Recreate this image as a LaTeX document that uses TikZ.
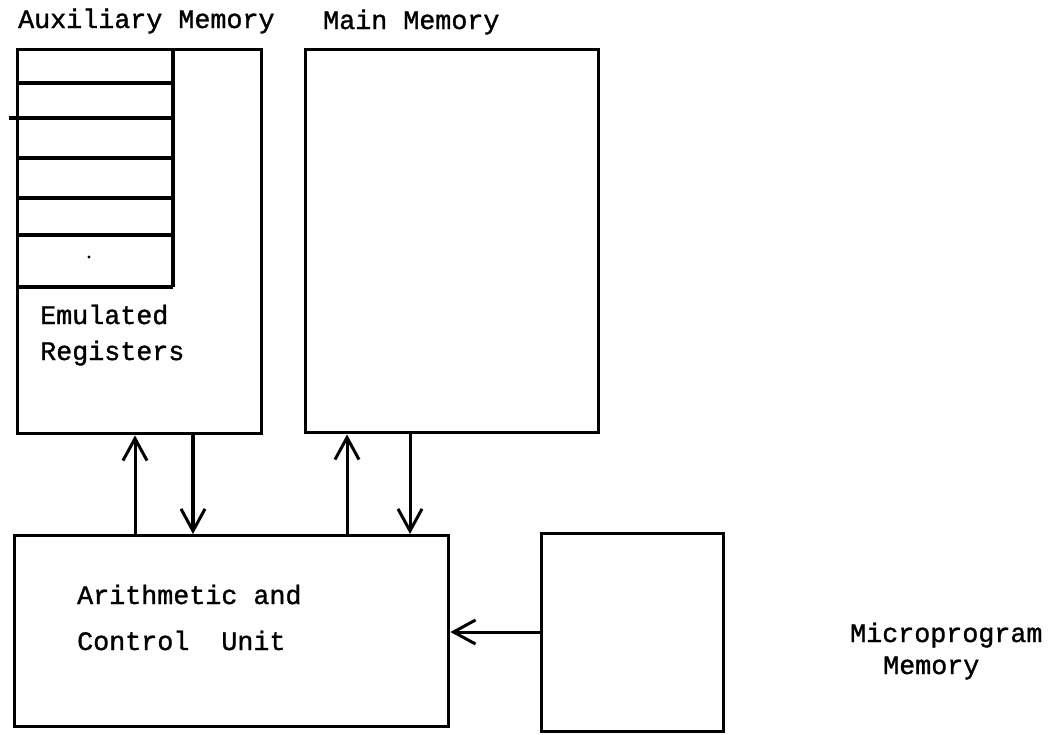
\documentclass[tikz,border=0pt]{standalone}
\usepackage{fontspec}
\newfontfamily\tw[FakeBold=1.2]{Liberation Mono}
\usetikzlibrary{arrows.meta}
\begin{document}
\begin{tikzpicture}[x=1pt,y=-1pt,
  box/.style={draw, line width=3.4pt, inner sep=0pt, anchor=north west},
  lbl/.style={font=\tw\fontsize{26.7}{30}\selectfont, anchor=base west, inner sep=0pt},
  rule/.style={line width=3.2pt},
  flow/.style={line width=3pt, -{Straight Barb[length=22pt,width=24pt,line width=3pt]}},
]
\useasboundingbox (0,0) rectangle (1056,734);
% boxes
\node[box, minimum width=244pt, minimum height=384pt] (aux) at (16,48) {};
\node[box, minimum width=293pt, minimum height=383pt] (main) at (304,48) {};
\node[box, minimum width=434pt, minimum height=191pt] (acu) at (13,534) {};
\node[box, minimum width=182pt, minimum height=198pt] (micro) at (540,532) {};
% register stack
\coordinate (rc) at (173,287);
\draw[rule] (aux.north west -| rc) -- (rc);
\foreach \yy in {83,158,198,235,287} \draw[rule] (aux.west |- 0,\yy) -- (173,\yy);
\draw[rule] (9,118) -- (173,118);
\fill (89,257) circle (1.6pt);
% labels
\node[lbl] (auxl) at (18,28) {Auxiliary Memory};
\node[lbl] (mainl) at (323,29) {Main Memory};
\node[lbl] (em1) at (40,324) {Emulated};
\node[lbl] (em2) at (40,360) {Registers};
\node[lbl] (ac1) at (77,604) {Arithmetic and};
\node[lbl] (ac2) at (77,650) {Control\ \ Unit};
\node[lbl] (mp1) at (850,642) {Microprogram};
\node[lbl] (mp2) at (883,674) {Memory};
% connectors
\coordinate (a1) at (135,0);
\coordinate (a2) at (193,0);
\coordinate (m1) at (347,0);
\coordinate (m2) at (410,0);
\coordinate (my) at (0,632);
\draw[flow] (acu.north -| a1) -- (aux.south -| a1);
\draw[flow, line width=4.2pt] (aux.south -| a2) -- (acu.north -| a2);
\draw[flow] (acu.north -| m1) -- (main.south -| m1);
\draw[flow] (main.south -| m2) -- (acu.north -| m2);
\draw[flow] (micro.west |- my) -- (acu.east |- my);
\end{tikzpicture}
\end{document}
